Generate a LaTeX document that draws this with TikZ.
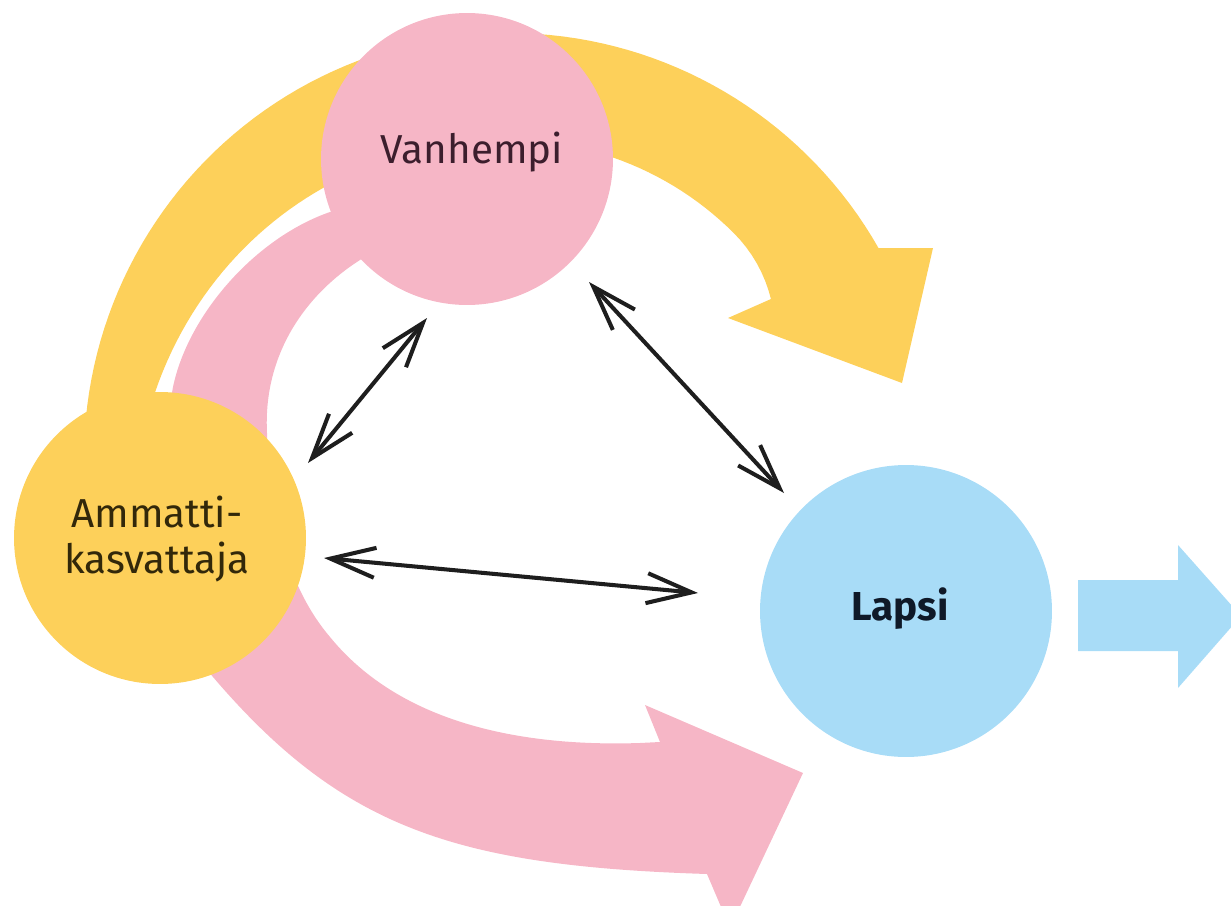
\documentclass[tikz,border=0pt]{standalone}
\usepackage{fontspec}
\setmainfont{Fira Sans}
\usetikzlibrary{arrows.meta}
\definecolor{ylw}{RGB}{253,208,90}
\definecolor{pnk}{RGB}{246,182,198}
\definecolor{blu}{RGB}{168,220,247}
\definecolor{ink}{RGB}{30,30,30}
\definecolor{tplum}{RGB}{60,30,45}
\definecolor{tbrown}{RGB}{50,40,10}
\definecolor{tnavy}{RGB}{15,25,40}
\begin{document}
\begin{tikzpicture}[x=0.02cm,y=-0.02cm,
  declare function={
    fy(\t)=max(0,(\t-100)/65);
    gy(\t)=max(0,(45-\t)/14);
    ryin(\t)=318+38*(0.5*fy(\t)+0.5*fy(\t)*fy(\t))-12*gy(\t)*gy(\t);
  },
  disc/.style={circle, inner sep=0pt, minimum size=5.84cm},
  lbl/.style={font=\fontsize{23}{26.2}\selectfont, inner sep=0pt},
  dbl/.style={line width=2.3pt, draw=ink, {Straight Barb[length=0.9cm,width=0.6cm]}-{Straight Barb[length=0.9cm,width=0.6cm]}}]
\useasboundingbox (0,0) rectangle (1231,906);
% yellow curved arrow
\fill[ylw] plot[domain=173:330.4,samples=90] ({509+425*cos(\x)},{458+425*sin(\x)})
  -- (933,248) -- (902,383) -- (728,318) -- (771,299)
  -- plot[domain=31.2:185,samples=90] ({509+ryin(\x)*cos(\x)},{458-ryin(\x)*sin(\x)}) -- cycle;
% pink curved arrow
\fill[pnk] (390,195) -- (330,212)
  .. controls (255,238) and (188,315) .. (173,387)
  .. controls (160,460) and (152,605) .. (213,677)
  .. controls (343,829) and (457,866) .. (707,874)
  -- (730,928) -- (803,773) -- (645,705) -- (660,742) -- (640,743)
  .. controls (550,746) and (410,735) .. (330,637)
  .. controls (290,590) and (270,520) .. (267,433)
  .. controls (263,355) and (305,295) .. (360,260)
  -- (410,225) -- cycle;
% discs
\node[disc, fill=pnk] (vanh) at (467,159) {};
\node[disc, fill=ylw] (amm) at (160,538) {};
\node[disc, fill=blu] (lapsi) at (906,611) {};
% blue arrow
\fill[blu] (1078,580) -- (1178,580) -- (1178,545) -- (1241,616) -- (1178,688) -- (1178,651) -- (1078,651) -- cycle;
% labels
\node[lbl, text=tplum, anchor=base] (tv) at (472,163) {Vanhempi};
\node[lbl, text=tbrown, align=center] (ta) at (157,539.5) {Ammatti-\\kasvattaja};
\node[lbl, text=tnavy, anchor=base, font=\fontsize{23}{26.2}\selectfont\bfseries] (tl) at (900,620) {Lapsi};
% double arrows
\coordinate (a1s) at (427,318);
\coordinate (a1e) at (308,463);
\coordinate (a2s) at (589,282);
\coordinate (a2e) at (784,493);
\coordinate (a3s) at (324,558);
\coordinate (a3e) at (698,593);
\draw[dbl] (a1s) -- (a1e);
\draw[dbl] (a2s) -- (a2e);
\draw[dbl] (a3s) -- (a3e);
\end{tikzpicture}
\end{document}
